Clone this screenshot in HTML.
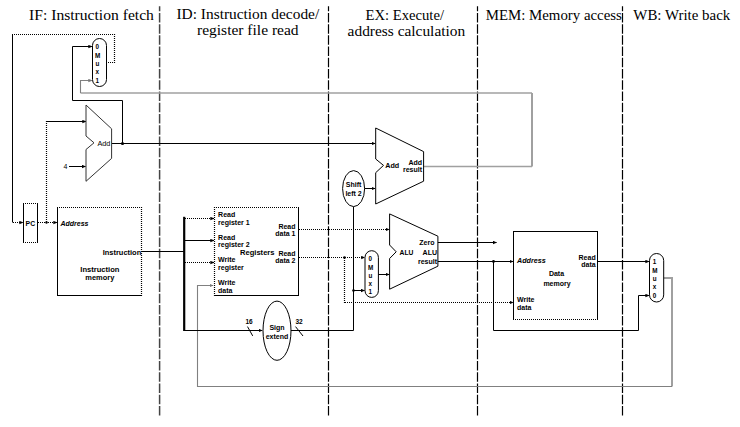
<!DOCTYPE html>
<html><head><meta charset="utf-8"><style>
html,body{margin:0;padding:0;background:#fff;width:740px;height:427px;overflow:hidden}
svg{display:block}
.h{font-family:"Liberation Serif",serif;font-size:14px;fill:#000}
.t{font-family:"Liberation Sans",sans-serif;font-size:7px;font-weight:bold;fill:#000}
.m{font-family:"Liberation Sans",sans-serif;font-size:6.3px;font-weight:bold;fill:#000}
.d{stroke:#000;stroke-width:1.2;stroke-dasharray:9.5 1.73;stroke-dashoffset:4.63;fill:none}
.d0{stroke:#444;stroke-width:1.5;stroke-dasharray:9.5 1.73;stroke-dashoffset:4.63;fill:none}
.s{stroke:#000;stroke-width:1;fill:none}
.o{stroke:#000;stroke-width:1.2;stroke-dasharray:1 1;fill:none}
.g{stroke:#808080;stroke-width:1.1;fill:none}
.g2{stroke:#a0a0a0;stroke-width:2;fill:none}
.g3{stroke:#a0a0a0;stroke-width:1.4;fill:none}
.b{stroke:#000;stroke-width:1;fill:#fff}
</style></head><body>
<svg width="740" height="427" viewBox="0 0 740 427">
<defs>
<marker id="a" markerWidth="4" markerHeight="4" refX="3.5" refY="2" orient="auto" markerUnits="userSpaceOnUse"><path d="M0,0.3 L4,2 L0,3.7 z" fill="#000"/></marker>
<marker id="ag" markerWidth="4" markerHeight="4" refX="3.5" refY="2" orient="auto" markerUnits="userSpaceOnUse"><path d="M0,0.3 L4,2 L0,3.7 z" fill="#777"/></marker>
</defs>
<text class="h" x="29.1" y="19.6" textLength="124.8" lengthAdjust="spacingAndGlyphs">IF: Instruction fetch</text>
<text class="h" x="176.5" y="19.4" textLength="142.7" lengthAdjust="spacingAndGlyphs">ID: Instruction decode/</text>
<text class="h" x="197" y="35.4" textLength="101.6" lengthAdjust="spacingAndGlyphs">register file read</text>
<text class="h" x="365.5" y="19.7" textLength="78.5" lengthAdjust="spacingAndGlyphs">EX: Execute/</text>
<text class="h" x="347.6" y="35.8" textLength="117.6" lengthAdjust="spacingAndGlyphs">address calculation</text>
<text class="h" x="485.7" y="19.9" textLength="136.2" lengthAdjust="spacingAndGlyphs">MEM: Memory access</text>
<text class="h" x="633.3" y="19.6" textLength="97" lengthAdjust="spacingAndGlyphs">WB: Write back</text>
<line class="d0" x1="159.6" y1="6.3" x2="159.6" y2="415.7"/>
<line class="d" x1="328.5" y1="6.3" x2="328.5" y2="415.7"/>
<line class="d" x1="477.5" y1="6.3" x2="477.5" y2="415.7"/>
<line class="d" x1="622.5" y1="6.3" x2="622.5" y2="415.7"/>
<polyline class="g2" points="663.7,278 672,278 672,386.5"/>
<polyline class="g" points="672,386.5 197.5,386.5 197.5,285.5 213,285.5" marker-end="url(#ag)"/>
<polyline class="g3" points="423.6,166.5 532,166.5"/>
<polyline class="g2" points="532,166.5 532,93"/>
<polyline class="g3" points="532,93 80.5,93"/>
<polyline class="g" points="80.5,93 80.5,80.5 91.8,80.5" marker-end="url(#ag)"/>
<line class="o" x1="106" y1="62.5" x2="115" y2="62.5"/>
<line class="o" x1="114.5" y1="63" x2="114.5" y2="34"/>
<line class="o" x1="115" y1="34.5" x2="12" y2="34.5"/>
<polyline class="s" points="12.5,34.5 12.5,222.5"/>
<line class="o" x1="13" y1="222.5" x2="22.8" y2="222.5" marker-end="url(#a)"/>
<line class="o" x1="38" y1="222.5" x2="56.8" y2="222.5" marker-end="url(#a)"/>
<line class="o" x1="46.5" y1="222" x2="46.5" y2="121"/>
<polyline class="s" points="46.5,121.5 85.8,121.5" marker-end="url(#a)"/>
<polyline class="s" points="69,166.5 85.5,166.5" marker-end="url(#a)"/>
<polyline class="s" points="111.6,143.5 375.2,143.5" marker-end="url(#a)"/>
<polyline class="s" points="122.5,143.5 122.5,100.5 72.5,100.5 72.5,46.5 91.8,46.5" marker-end="url(#a)"/>
<circle cx="122.5" cy="143.5" r="1.6" fill="#000"/>
<circle cx="46.5" cy="222.5" r="1.2" fill="#000"/>
<rect x="23.5" y="203.5" width="14.0" height="39.0" fill="#fff"/>
<line class="s" x1="23.5" y1="203.5" x2="23.5" y2="242.5" stroke-linecap="square"/>
<line class="o" x1="23" y1="203.5" x2="38" y2="203.5"/>
<line class="s" x1="37.5" y1="203.5" x2="37.5" y2="242.5" stroke-linecap="square"/>
<line class="o" x1="23" y1="242.5" x2="38" y2="242.5"/>
<text class="t" x="25.6" y="225.7" textLength="9.5" lengthAdjust="spacingAndGlyphs">PC</text>
<rect class="b" x="92.5" y="38.5" width="14" height="48" rx="7" ry="7"/>
<text class="m" x="95.5" y="48.5">0</text>
<text class="m" x="95" y="58">M</text>
<text class="m" x="95.5" y="66">u</text>
<text class="m" x="95.5" y="74">x</text>
<text class="m" x="95.5" y="82.5">1</text>
<polygon class="b" points="86,105 111.6,128.8 111.6,158.4 86,181.3 86,149.5 94,142.8 86,136" style="stroke:#333"/>
<text class="t" x="97.4" y="145.5" textLength="13" lengthAdjust="spacingAndGlyphs" style="font-weight:normal">Add</text>
<text class="t" x="63.5" y="168.7" style="font-weight:normal">4</text>
<rect x="57.5" y="207.5" width="84.0" height="88.0" fill="#fff"/>
<line class="s" x1="57.5" y1="207.5" x2="57.5" y2="295.5" stroke-linecap="square"/>
<line class="o" x1="57" y1="207.5" x2="142" y2="207.5"/>
<line class="o" x1="141.5" y1="207" x2="141.5" y2="296"/>
<line class="s" x1="57.5" y1="295.5" x2="141.5" y2="295.5" stroke-linecap="square"/>
<text class="t" x="60.5" y="225.5" textLength="28" lengthAdjust="spacingAndGlyphs" style="font-style:italic">Address</text>
<text class="t" x="102.7" y="254.6" textLength="38.5" lengthAdjust="spacingAndGlyphs">Instruction</text>
<text class="t" x="80.3" y="272.2" textLength="39.2" lengthAdjust="spacingAndGlyphs">Instruction</text>
<text class="t" x="85.3" y="280.4" textLength="29" lengthAdjust="spacingAndGlyphs">memory</text>
<polyline class="s" points="141.3,251.5 184.2,251.5"/>
<line x1="184.2" y1="216.8" x2="184.2" y2="331" stroke="#000" stroke-width="2.2"/>
<line class="o" x1="185" y1="218.5" x2="213.8" y2="218.5" marker-end="url(#a)"/>
<polyline class="s" points="184.2,240.5 213.8,240.5" marker-end="url(#a)"/>
<line class="o" x1="185" y1="262.5" x2="213.8" y2="262.5" marker-end="url(#a)"/>
<polyline class="s" points="184.2,330.5 262.2,330.5" marker-end="url(#a)"/>
<rect x="214.5" y="207.5" width="84.0" height="88.0" fill="#fff"/>
<line class="o" x1="214.5" y1="207" x2="214.5" y2="296"/>
<line class="o" x1="214" y1="207.5" x2="299" y2="207.5"/>
<line class="s" x1="298.5" y1="207.5" x2="298.5" y2="295.5" stroke-linecap="square"/>
<line class="s" x1="214.5" y1="295.5" x2="298.5" y2="295.5" stroke-linecap="square"/>
<text class="t" x="218.1" y="216.8">Read</text>
<text class="t" x="218.1" y="224.5">register 1</text>
<text class="t" x="218.1" y="239.8">Read</text>
<text class="t" x="218.1" y="247">register 2</text>
<text class="t" x="218.1" y="262.3">Write</text>
<text class="t" x="218.1" y="269.8">register</text>
<text class="t" x="218.1" y="285">Write</text>
<text class="t" x="218.1" y="292.5">data</text>
<text class="t" x="240" y="255.2" textLength="34.5" lengthAdjust="spacingAndGlyphs">Registers</text>
<text class="t" x="295.5" y="228.5" text-anchor="end">Read</text>
<text class="t" x="295.5" y="236" text-anchor="end">data 1</text>
<text class="t" x="295.5" y="255.5" text-anchor="end">Read</text>
<text class="t" x="295.5" y="263" text-anchor="end">data 2</text>
<line class="o" x1="299" y1="229.5" x2="389.2" y2="229.5" marker-end="url(#a)"/>
<line class="o" x1="299" y1="257.5" x2="364.7" y2="257.5" marker-end="url(#a)"/>
<line class="o" x1="344.5" y1="258" x2="344.5" y2="303"/>
<line class="o" x1="345" y1="302.5" x2="513.2" y2="302.5" marker-end="url(#a)"/>
<circle cx="344.5" cy="257.5" r="1.3" fill="#000"/>
<ellipse class="b" cx="277" cy="330.7" rx="14" ry="29.6"/>
<text class="t" x="277" y="329.8" text-anchor="middle">Sign</text>
<text class="t" x="277" y="338.8" text-anchor="middle">extend</text>
<text class="t" x="245.5" y="323.5" style="font-size:6.5px">16</text>
<text class="t" x="295.5" y="323.5" style="font-size:6.5px">32</text>
<line class="s" x1="247.5" y1="326.6" x2="252.7" y2="335.9"/>
<line class="s" x1="295.5" y1="326.6" x2="303" y2="336"/>
<polyline class="s" points="290.8,330.5 353.5,330.5 353.5,206.5"/>
<polyline class="s" points="353.5,290.5 364.5,290.5" marker-end="url(#a)"/>
<circle cx="353.5" cy="290.5" r="1.3" fill="#000"/>
<ellipse class="b" cx="353.6" cy="188.6" rx="11" ry="18"/>
<text class="t" x="353.6" y="187" text-anchor="middle">Shift</text>
<text class="t" x="353.6" y="196" text-anchor="middle">left 2</text>
<polyline class="s" points="364.6,188.5 375,188.5" marker-end="url(#a)"/>
<polygon class="b" points="375.7,128 423.6,151.6 423.6,181.2 375.7,204 375.7,172.7 383.5,165.4 375.7,159"/>
<text class="t" x="385.2" y="168.3" textLength="14" lengthAdjust="spacingAndGlyphs">Add</text>
<text class="t" x="422" y="164.5" text-anchor="end">Add</text>
<text class="t" x="422" y="172.3" text-anchor="end">result</text>
<rect class="b" x="365" y="250.7" width="13.4" height="46.7" rx="6.7" ry="6.7"/>
<text class="m" x="368.5" y="260.5">0</text>
<text class="m" x="368" y="270">M</text>
<text class="m" x="368.5" y="278">u</text>
<text class="m" x="368.5" y="286">x</text>
<text class="m" x="368.5" y="294">1</text>
<polyline class="s" points="378.4,274.5 389.2,274.5" marker-end="url(#a)"/>
<polygon class="b" points="389.6,213.9 437.9,236.2 437.9,266.2 389.6,289.2 389.6,258.5 396.2,251.8 389.6,245"/>
<text class="t" x="399.6" y="254.5" textLength="13.8" lengthAdjust="spacingAndGlyphs">ALU</text>
<text class="t" x="434.5" y="245" text-anchor="end">Zero</text>
<text class="t" x="437" y="254.5" text-anchor="end">ALU</text>
<text class="t" x="437" y="264" text-anchor="end">result</text>
<polyline class="s" points="437.9,242.5 496.5,242.5" marker-end="url(#a)"/>
<polyline class="s" points="437.9,261.5 513,261.5" marker-end="url(#a)"/>
<polyline class="s" points="493.5,261.5 493.5,330.5 638.5,330.5 638.5,295.5 648.9,295.5" marker-end="url(#a)"/>
<circle cx="493.5" cy="261.5" r="1.4" fill="#000"/>
<rect x="513.5" y="231.5" width="84.0" height="88.0" fill="#fff"/>
<line class="s" x1="513.5" y1="231.5" x2="513.5" y2="319.5" stroke-linecap="square"/>
<line class="s" x1="513.5" y1="231.5" x2="597.5" y2="231.5" stroke-linecap="square"/>
<line class="s" x1="597.5" y1="231.5" x2="597.5" y2="319.5" stroke-linecap="square"/>
<line class="o" x1="513" y1="319.5" x2="598" y2="319.5"/>
<text class="t" x="517.1" y="263.3" textLength="28.6" lengthAdjust="spacingAndGlyphs" style="font-style:italic">Address</text>
<text class="t" x="595.7" y="259.5" text-anchor="end">Read</text>
<text class="t" x="595.7" y="267.3" text-anchor="end">data</text>
<text class="t" x="556.5" y="275.5" text-anchor="middle">Data</text>
<text class="t" x="557" y="286" text-anchor="middle">memory</text>
<text class="t" x="517" y="302">Write</text>
<text class="t" x="517" y="309.8">data</text>
<polyline class="s" points="597.5,261.5 648.9,261.5" marker-end="url(#a)"/>
<rect class="b" x="649.5" y="253.5" width="14.2" height="48.5" rx="7.1" ry="7.1"/>
<text class="m" x="652.7" y="264">1</text>
<text class="m" x="652.2" y="273">M</text>
<text class="m" x="652.7" y="281">u</text>
<text class="m" x="652.7" y="289">x</text>
<text class="m" x="652.7" y="297.5">0</text>
</svg>
</body></html>
